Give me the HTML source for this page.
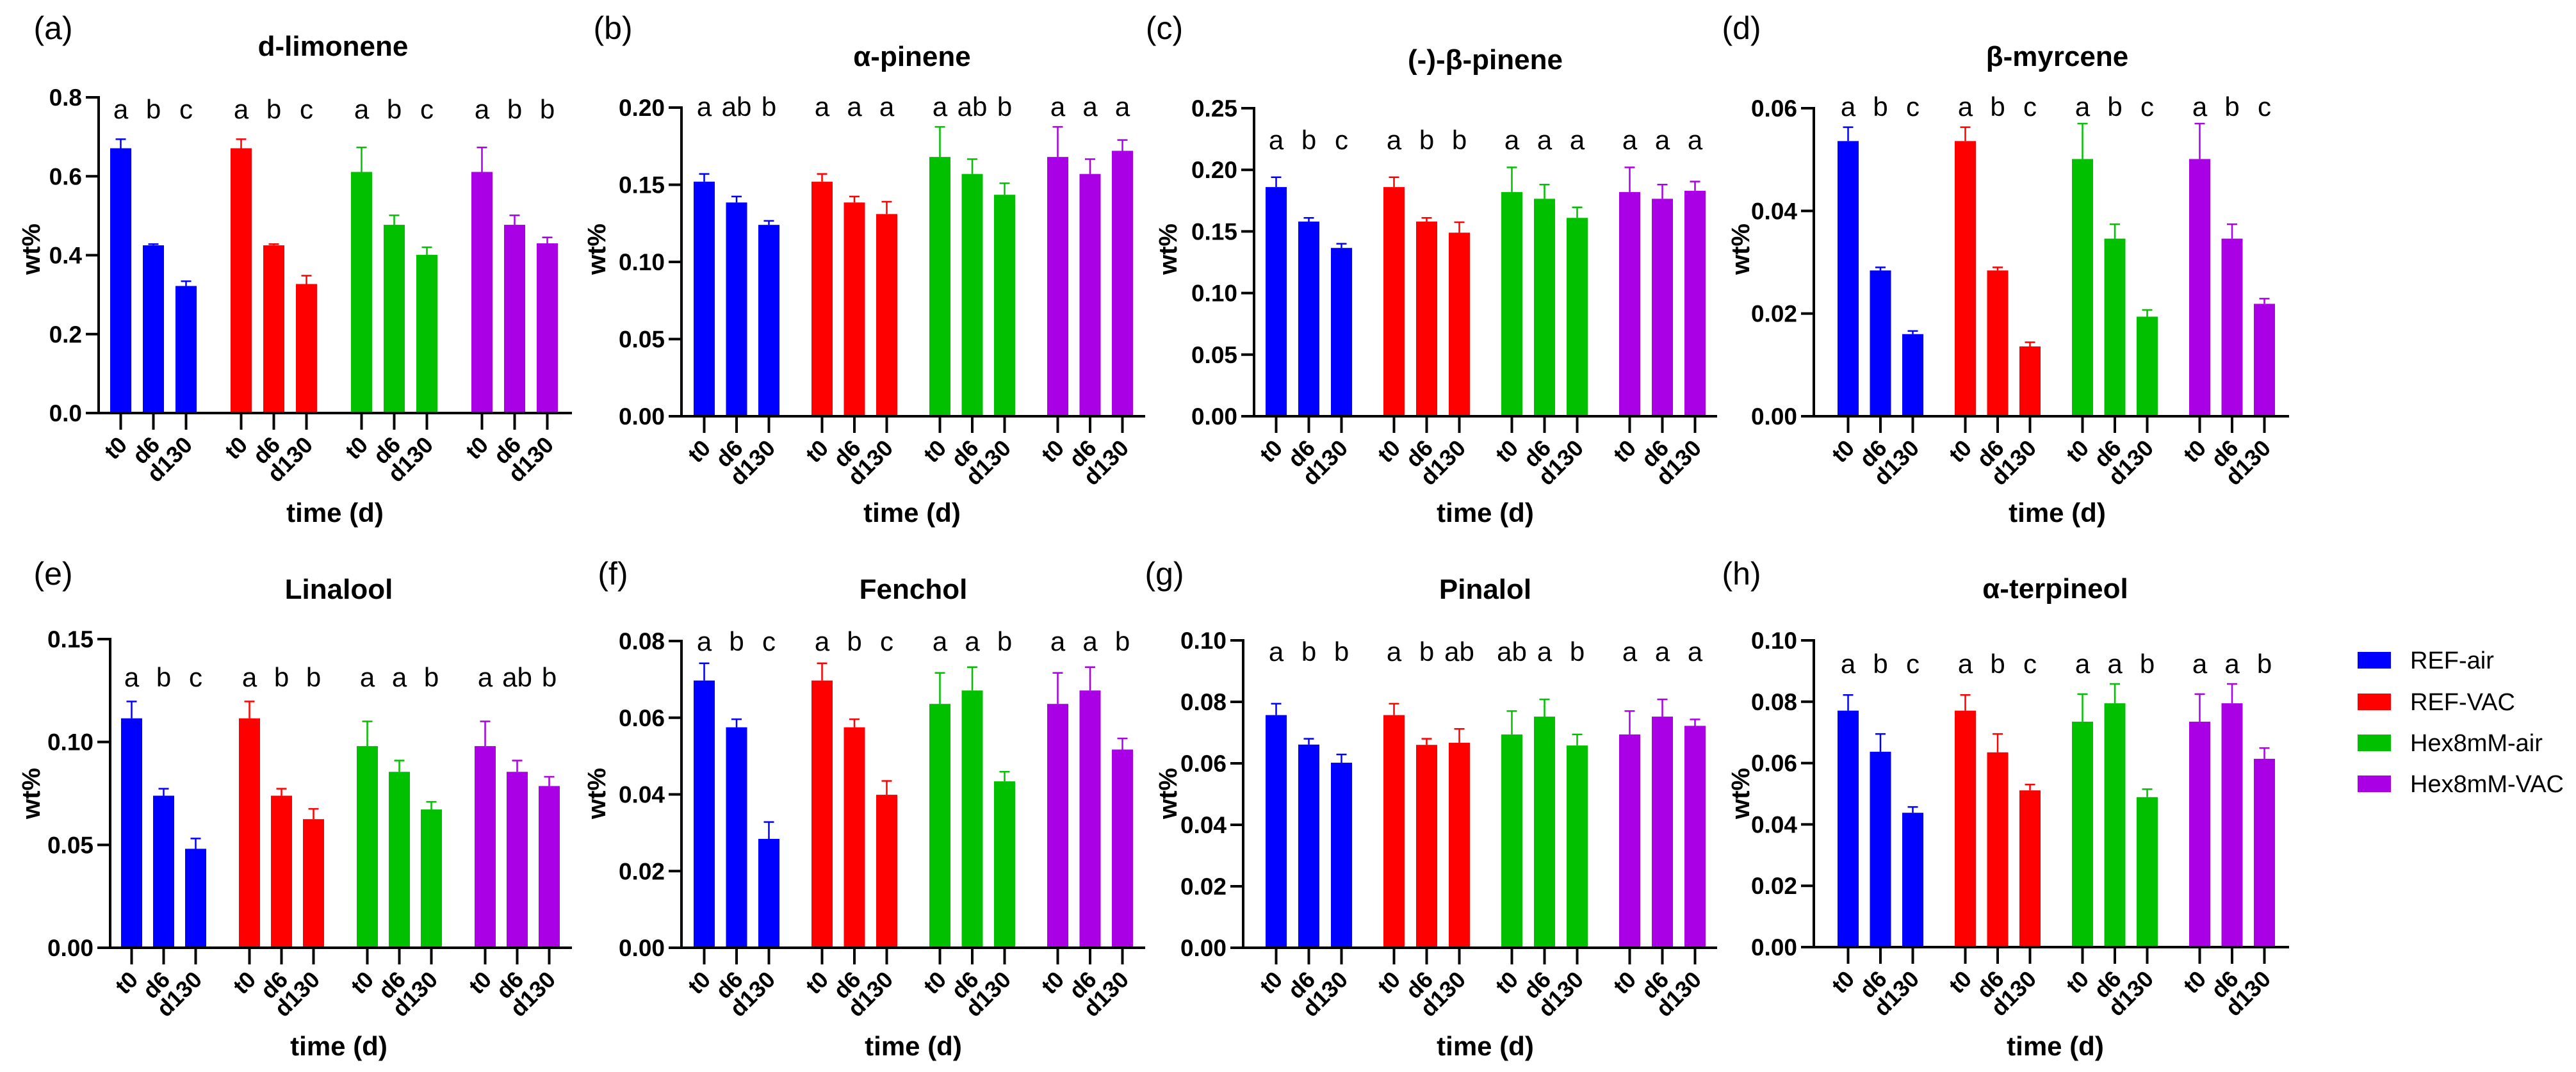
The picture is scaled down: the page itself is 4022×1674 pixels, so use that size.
<!DOCTYPE html>
<html><head><meta charset="utf-8">
<style>
html,body{margin:0;padding:0;background:#fff;}
svg{display:block;font-family:"Liberation Sans",Arial,sans-serif;}
</style></head>
<body>
<svg id="fig" width="4022" height="1674" viewBox="0 0 4022 1674" xmlns="http://www.w3.org/2000/svg">
<rect width="4022" height="1674" fill="#fff"/>
<g id="legend"></g>
</svg>
<script>
const seriesNames = ["REF-air","REF-VAC","Hex8mM-air","Hex8mM-VAC"];
const seriesColors = ["#0000FF","#FF0000","#00C000","#AA00E6"];
const timeLabels = ["t0","d6","d130"];

const titles = ["d-limonene","α-pinene","(-)-β-pinene","β-myrcene","Linalool","Fenchol","Pinalol","α-terpineol"];
const panelLetters = ["(a)","(b)","(c)","(d)","(e)","(f)","(g)","(h)"];

const ticksA = [0,0.2,0.4,0.6,0.8];
const ticksB = [0,0.05,0.10,0.15,0.20];
const ticksC = [0,0.05,0.10,0.15,0.20,0.25];
const ticksD = [0,0.02,0.04,0.06];
const ticksE = [0,0.05,0.10,0.15];
const ticksF = [0,0.02,0.04,0.06,0.08];
const ticksG = [0,0.02,0.04,0.06,0.08,0.10];
const ticksH = [0,0.02,0.04,0.06,0.08,0.10];
const tickDecimals = [1,2,2,2,2,2,2,2];

// means per series [REF-air, REF-VAC, Hex-air, Hex-VAC] x [t0,d6,d130]
const meanA = [[0.671,0.425,0.322],[0.671,0.425,0.327],[0.611,0.477,0.401],[0.611,0.477,0.430]];
const errA  = [[0.694,0.428,0.334],[0.694,0.428,0.348],[0.673,0.501,0.420],[0.673,0.501,0.445]];
const meanB = [[0.152,0.1385,0.124],[0.152,0.1385,0.131],[0.168,0.157,0.1435],[0.168,0.157,0.172]];
const errB  = [[0.157,0.1424,0.1266],[0.157,0.1424,0.139],[0.1875,0.1666,0.151],[0.1875,0.1666,0.179]];
const meanC = [[0.186,0.158,0.1366],[0.186,0.158,0.149],[0.182,0.1765,0.161],[0.182,0.1765,0.183]];
const errC  = [[0.194,0.161,0.140],[0.194,0.161,0.1575],[0.202,0.188,0.1696],[0.202,0.188,0.1905]];
const meanD = [[0.0536,0.0284,0.016],[0.0536,0.0284,0.0136],[0.0501,0.0346,0.0194],[0.0501,0.0346,0.0219]];
const errD  = [[0.0563,0.029,0.0166],[0.0563,0.029,0.0144],[0.057,0.0374,0.0207],[0.057,0.0374,0.0229]];
const meanE = [[0.1115,0.0739,0.0481],[0.1115,0.0739,0.0625],[0.098,0.0855,0.0672],[0.098,0.0855,0.0786]];
const errE  = [[0.1197,0.0773,0.0531],[0.1197,0.0773,0.0675],[0.110,0.091,0.0709],[0.110,0.091,0.0831]];
const meanF = [[0.0697,0.0575,0.0284],[0.0697,0.0575,0.0399],[0.0636,0.0671,0.0434],[0.0636,0.0671,0.0517]];
const errF  = [[0.0742,0.0596,0.0328],[0.0742,0.0596,0.0435],[0.0717,0.0732,0.0459],[0.0717,0.0732,0.0546]];
const meanG = [[0.0757,0.0661,0.0602],[0.0757,0.066,0.0667],[0.0694,0.0752,0.0658],[0.0694,0.0752,0.0722]];
const errG  = [[0.0794,0.068,0.0629],[0.0794,0.068,0.0712],[0.077,0.0808,0.0694],[0.077,0.0808,0.0743]];
const meanH = [[0.0771,0.0637,0.0438],[0.0771,0.0635,0.0511],[0.0735,0.0795,0.0489],[0.0735,0.0795,0.0614]];
const errH  = [[0.0822,0.0695,0.0457],[0.0822,0.0695,0.053],[0.0825,0.0858,0.0515],[0.0825,0.0858,0.0649]];

const sigA = [["a","b","c"],["a","b","c"],["a","b","c"],["a","b","b"]];
const sigB = [["a","ab","b"],["a","a","a"],["a","ab","b"],["a","a","a"]];
const sigC = [["a","b","c"],["a","b","b"],["a","a","a"],["a","a","a"]];
const sigD = [["a","b","c"],["a","b","c"],["a","b","c"],["a","b","c"]];
const sigE = [["a","b","c"],["a","b","b"],["a","a","b"],["a","ab","b"]];
const sigF = [["a","b","c"],["a","b","c"],["a","a","b"],["a","a","b"]];
const sigG = [["a","b","b"],["a","b","ab"],["ab","a","b"],["a","a","a"]];
const sigH = [["a","b","c"],["a","b","c"],["a","a","b"],["a","a","b"]];

const allTicks=[ticksA,ticksB,ticksC,ticksD,ticksE,ticksF,ticksG,ticksH];
const allMeans=[meanA,meanB,meanC,meanD,meanE,meanF,meanG,meanH];
const allErrs=[errA,errB,errC,errD,errE,errF,errG,errH];
const allSig=[sigA,sigB,sigC,sigD,sigE,sigF,sigG,sigH];

// layout (pixels)
const layout=[
 {ax:154,x0:172,gs:188,bs:51,end:893,yt:152,yz:645,lx:83,ly:61,tx:520,ty:87,wx:48,wy:389,sy:185,cx:523,cy:815},
 {ax:1064,x0:1083,gs:184,bs:50.5,end:1788,yt:168,yz:650,lx:957,ly:61,tx:1424,ty:103,wx:931,wy:389,sy:181,cx:1424,cy:815},
 {ax:1958,x0:1976,gs:184,bs:51,end:2681,yt:169,yz:650,lx:1818,ly:61,tx:2319,ty:108,wx:1823,wy:389,sy:233,cx:2319,cy:815},
 {ax:2832,x0:2869,gs:183,bs:50.5,end:3574,yt:169,yz:650,lx:2719,ly:61,tx:3212,ty:103,wx:2717,wy:389,sy:181,cx:3212,cy:815},
 {ax:172,x0:189,gs:184,bs:50,end:893,yt:998,yz:1480,lx:83,ly:913,tx:529,ty:935,wx:48,wy:1239,sy:1072,cx:529,cy:1648},
 {ax:1064,x0:1083,gs:184,bs:50.5,end:1788,yt:1001,yz:1480,lx:957,ly:913,tx:1426,ty:935,wx:931,wy:1239,sy:1016,cx:1426,cy:1648},
 {ax:1941,x0:1976,gs:184,bs:51,end:2681,yt:1000,yz:1480,lx:1818,ly:913,tx:2319,ty:935,wx:1823,wy:1239,sy:1032,cx:2319,cy:1648},
 {ax:2832,x0:2869,gs:183,bs:50.5,end:3574,yt:1000,yz:1479,lx:2719,ly:913,tx:3209,ty:934,wx:2717,wy:1239,sy:1051,cx:3209,cy:1648}
];
const NS="http://www.w3.org/2000/svg";
const svg=document.getElementById('fig');
function mk(tag,attrs,parent,txt){const e=document.createElementNS(NS,tag);for(const k in attrs)e.setAttribute(k,attrs[k]);if(txt!==undefined)e.textContent=txt;parent.appendChild(e);return e;}

for(let p=0;p<8;p++){
  const L=layout[p],ticks=allTicks[p],maxV=ticks[ticks.length-1];
  const y=v=>L.yz-(v/maxV)*(L.yz-L.yt);
  const bw=33;
  const xc=(s,t)=>L.x0+s*L.gs+t*L.bs+bw/2;
  const g=mk('g',{},svg);
  
  
  const pl=mk('text',{x:L.lx,y:L.ly,'font-size':50,'text-anchor':'middle'},g,panelLetters[p]);
  
  
  const ti=mk('text',{x:L.tx,y:L.ty,'font-size':44,'font-weight':'bold','text-anchor':'middle'},g,titles[p]);
  
  
  // bars
  for(let s=0;s<4;s++)for(let t=0;t<3;t++){
    const v=allMeans[p][s][t],e=allErrs[p][s][t],cx=xc(s,t);
    const r=mk('rect',{x:cx-bw/2,y:y(v),width:bw,height:L.yz-y(v),fill:seriesColors[s]},g);
    
    
    const eb=mk('path',{d:`M${cx} ${y(v)}V${y(e)}M${cx-8} ${y(e)}H${cx+8}`,stroke:seriesColors[s],'stroke-width':2.5,fill:'none'},g);
    
    
    const sl=mk('text',{x:cx,y:L.sy,'font-size':42,'text-anchor':'middle'},g,allSig[p][s][t]);
    
    
    const tk=mk('line',{x1:cx,x2:cx,y1:L.yz,y2:L.yz+26,stroke:'#000','stroke-width':4},g);
    
    
    const tl=mk('text',{x:0,y:0,'font-size':36,'font-weight':'bold','text-anchor':'end',transform:`translate(${cx+12},${L.yz+52}) rotate(-45)`},g,timeLabels[t]);
    
    
  }
  // axes
  const ya=mk('line',{x1:L.ax,x2:L.ax,y1:L.yt-2,y2:L.yz+2,stroke:'#000','stroke-width':4},g);
  
  
  const xa=mk('line',{x1:L.ax-20,x2:L.end,y1:L.yz,y2:L.yz,stroke:'#000','stroke-width':4},g);
  
  
  ticks.forEach(tv=>{
    const yy=y(tv);
    const yt=mk('line',{x1:L.ax-20,x2:L.ax,y1:yy,y2:yy,stroke:'#000','stroke-width':4},g);
    
    
    const lb=mk('text',{x:L.ax-26,y:yy+13,'font-size':37,'font-weight':'bold','text-anchor':'end'},g,tv.toFixed(tickDecimals[p]));
    
    
  });
  const yl=mk('text',{x:0,y:0,'font-size':40,'font-weight':'bold','text-anchor':'middle',transform:`translate(${L.wx+14},${L.wy}) rotate(-90)`},g,'wt%');
  
  
  const xl=mk('text',{x:L.cx,y:L.cy,'font-size':42,'font-weight':'bold','text-anchor':'middle'},g,'time (d)');
  
  
}
// legend
const lg=document.getElementById('legend');
const legendY=[1031,1096,1160,1224];
for(let s=0;s<4;s++){
  const sw=mk('rect',{x:3681,y:legendY[s]-13,width:52,height:26,fill:seriesColors[s]},lg);
  
  
  const lt=mk('text',{x:3763,y:legendY[s]+13,'font-size':38},lg,seriesNames[s]);
  
  
}
</script>
</body></html>
